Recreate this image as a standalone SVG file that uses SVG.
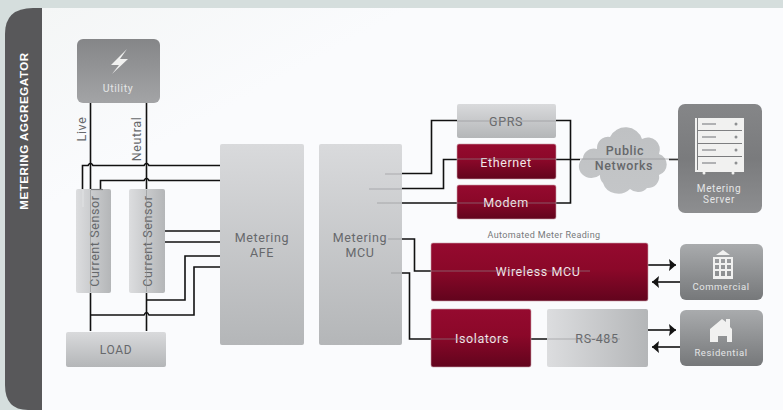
<svg xmlns="http://www.w3.org/2000/svg" width="783" height="410" viewBox="0 0 783 410">
<defs>
<linearGradient id="lg" x1="0" y1="0" x2="0" y2="1"><stop offset="0" stop-color="#d9dadc"/><stop offset="1" stop-color="#b4b6b8"/></linearGradient>
<linearGradient id="lg2" x1="0" y1="0" x2="1" y2="0"><stop offset="0" stop-color="#dcdddf"/><stop offset="1" stop-color="#b4b6b8"/></linearGradient>
<linearGradient id="red" x1="0" y1="0" x2="0" y2="1"><stop offset="0" stop-color="#950a2f"/><stop offset=".45" stop-color="#8b0829"/><stop offset="1" stop-color="#62041d"/></linearGradient>
<linearGradient id="dk" x1="0" y1="0" x2="0" y2="1"><stop offset="0" stop-color="#a9abad"/><stop offset="1" stop-color="#76787a"/></linearGradient>
<linearGradient id="dku" x1="0" y1="0" x2="0" y2="1"><stop offset="0" stop-color="#858688"/><stop offset="1" stop-color="#a3a4a6"/></linearGradient>
<linearGradient id="dks" x1="0" y1="0" x2="0" y2="1"><stop offset="0" stop-color="#858688"/><stop offset=".5" stop-color="#7a7b7d"/><stop offset="1" stop-color="#8d8e90"/></linearGradient>
<linearGradient id="cl" x1="0" y1="0" x2="0" y2="1"><stop offset="0" stop-color="#bfc1c3"/><stop offset="1" stop-color="#c4c6c8"/></linearGradient>
<linearGradient id="panel" x1="0" y1="0" x2="1" y2="1"><stop offset="0" stop-color="#f4f6f6"/><stop offset=".25" stop-color="#fafbfd"/><stop offset="1" stop-color="#fafbfd"/></linearGradient>
<marker id="arr" markerUnits="userSpaceOnUse" markerWidth="8" markerHeight="12" refX="7" refY="6" orient="auto"><path d="M0 0L7 6L0 12L1 6Z" fill="#141414"/></marker>
</defs>
<style>
text{font-family:"Roboto","Liberation Sans",sans-serif;text-anchor:middle;letter-spacing:.6px}
.g{fill:url(#lg)}
.v{fill:url(#lg2)}
.r{fill:url(#red);stroke:#c9a0aa;stroke-width:.6}
.d{fill:url(#dk)}
.t{fill:#66686b;font-size:12.5px}
.w{fill:#f2e6e9;font-size:12.5px}
.s{fill:#e4e5e6;font-size:10px}
.c{fill:none;stroke:#111;stroke-width:1.6}
.f{fill:none;stroke:#8d8f91;stroke-width:.6}
.i{fill:#f1f1f0}
</style>
<rect width="783" height="410" fill="#d5dedd"/>
<rect x="42" y="8" width="741" height="402" fill="url(#panel)"/>
<path d="M42 8V410H28Q5 410 5 385V34Q5 8 33 8Z" fill="#58585a"/>
<g id="connectors">
<path class="c" d="M90.500 103V331M146.500 103V331"/>
<path class="c" d="M82.500 189V165.500H88Q90.500 161 93 165.500H144Q146.500 161 149 165.500H220"/>
<path class="c" d="M100.500 189V180.500H144Q146.500 176 149 180.500H220"/>
<path class="c" d="M165 231H220M165 242H220"/>
<path class="c" d="M146.500 300H185V256H220"/>
<path class="c" d="M90.500 315H144Q146.500 310 149 315H194V267H220"/>
<path class="c" d="M402 173.500H431.500V120.500H457M402 188.500H443.500V159.500H457M402 203H457"/>
<path class="c" d="M556 120.500H570.500V203H556M556 159.500H580M669 159.500H680"/>
<path class="c" d="M402 239H414.500V271H431M402 273H409.500V339H431M531 339H547"/>
<path class="c" marker-end="url(#arr)" d="M648 265H676"/>
<path class="c" marker-end="url(#arr)" d="M680 282H652"/>
<path class="c" marker-end="url(#arr)" d="M648 330H676"/>
<path class="c" marker-end="url(#arr)" d="M680 347H652"/>
</g>
<g id="side-label"><text transform="translate(28 131) rotate(-90)" fill="#fff" font-size="11.500" font-weight="700" style="font-family:'Liberation Sans',sans-serif">METERING AGGREGATOR</text></g>
<g id="utility"><rect x="77" y="39" width="83" height="64" rx="6" fill="url(#dku)"/><path class="i" d="M127 49L111 65H119L112 74L128 59H120Z"/><text class="s" x="118" y="92" style="font-size:10.500px">Utility</text></g>
<g id="live-label"><text class="t" transform="translate(86 129) rotate(-90)">Live</text></g>
<g id="neutral-label"><text class="t" transform="translate(141 139) rotate(-90)">Neutral</text></g>
<g id="sensor1"><rect class="v" x="76" y="189" width="35" height="104" rx="2"/><text class="t" transform="translate(99 241) rotate(-90)">Current Sensor</text><path class="f" d="M90.500 190V292"/><path d="M83 190V207" stroke="#e6e7e8" stroke-width=".8"/><path d="M91 189.500H103" stroke="#77797b" stroke-width="1.200"/></g>
<g id="sensor2"><rect class="v" x="129" y="189" width="36" height="104" rx="2"/><text class="t" transform="translate(152 241) rotate(-90)">Current Sensor</text><path class="f" d="M146.500 190V292"/></g>
<g id="load"><rect class="g" x="66" y="332" width="100" height="35" rx="2"/><text class="t" x="116" y="354" style="font-size:12px">LOAD</text></g>
<g id="afe"><rect class="g" x="220" y="144" width="84" height="201" rx="2"/><text class="t" x="262" y="242">Metering</text><text class="t" x="262" y="257">AFE</text></g>
<g id="mcu"><rect class="g" x="319" y="144" width="83" height="201" rx="2"/><text class="t" x="360" y="242">Metering</text><text class="t" x="360" y="257">MCU</text><path class="f" d="M385 174H402M369 189H402M377 203H402M388 239H402M391 273H402"/></g>
<g id="gprs"><rect class="g" x="457" y="104" width="99" height="34" rx="2"/><text class="t" x="506" y="126">GPRS</text><path class="f" d="M457 121H556"/></g>
<g id="ethernet"><rect class="r" x="457" y="144" width="99" height="35" rx="2"/><text class="w" x="506" y="167">Ethernet</text><path class="f" d="M457 159H556"/></g>
<g id="modem"><rect class="r" x="457" y="185" width="99" height="34" rx="2"/><text class="w" x="506" y="207">Modem</text><path class="f" d="M457 203H556"/></g>
<g id="cloud"><path fill="url(#cl)" d="M610 137A17 16 0 0 1 642 139A12 12 0 0 1 659 154A11 11 0 0 1 659 175A11 11 0 0 1 647 188A12 12 0 0 1 630 189A16 15 0 0 1 603 183A10 10 0 0 1 600 175A11 10 0 0 1 583 158A11 10 0 0 1 597 149A11 11 0 0 1 610 137Z"/><text class="t" x="625" y="155" style="font-weight:500">Public</text><text class="t" x="624" y="170" style="font-weight:500">Networks</text><path class="f" d="M580 159H688"/></g>
<g id="server"><rect x="678" y="104" width="84" height="109" rx="7" fill="url(#dks)"/><g class="i"><rect x="695" y="118" width="2" height="54"/><rect x="742" y="118" width="2" height="54"/><rect x="698" y="118" width="44" height="12"/><rect x="698" y="131" width="44" height="12"/><rect x="698" y="144" width="44" height="12"/><rect x="698" y="157" width="44" height="13"/><rect x="695" y="170" width="49" height="2"/><circle cx="704" cy="173" r="1.500"/><circle cx="733" cy="173" r="1.500"/></g><path d="M702 124H716M702 137H716M702 150H716M702 163H716" stroke="#9a9c9e" stroke-width="1.500"/><g fill="#8e9092"><circle cx="736" cy="124" r="1.500"/><circle cx="736" cy="137" r="1.500"/><circle cx="736" cy="150" r="1.500"/><circle cx="736" cy="163" r="1.500"/></g><text class="s" x="719" y="192">Metering</text><text class="s" x="719" y="203">Server</text></g>
<g id="amr-label"><text x="544" y="238" fill="#77797b" style="font-size:9px;letter-spacing:.35px">Automated Meter Reading</text></g>
<g id="wireless"><rect class="r" x="431" y="243" width="217" height="58" rx="2"/><text class="w" x="538" y="276">Wireless MCU</text><path class="f" d="M431 271H590"/></g>
<g id="isolators"><rect class="r" x="431" y="309" width="100" height="58" rx="2"/><text class="w" x="482" y="343">Isolators</text><path class="f" d="M431 339H508"/></g>
<g id="rs485"><rect class="v" x="547" y="309" width="101" height="58" rx="2"/><text class="t" x="597" y="343">RS-485</text><path class="f" d="M547 339H620"/></g>
<g id="commercial"><rect class="d" x="680" y="244" width="83" height="56" rx="6"/><path class="i" d="M723 250L730 255H716Z"/><path class="i" fill-rule="evenodd" d="M713 257H733V279H713ZM715 259V263H719V259ZM721 259V263H725V259ZM727 259V263H731V259ZM715 265V269H719V265ZM721 265V269H725V265ZM727 265V269H731V265ZM715 271V276H719V271ZM721 271V276H725V271ZM727 271V276H731V271Z"/><text class="s" x="721" y="290" style="font-size:9.500px">Commercial</text></g>
<g id="residential"><rect class="d" x="680" y="310" width="83" height="56" rx="6"/><path class="i" fill-rule="evenodd" d="M710 329L722 319L726 322V319H730V327L732 329V342H727V336H718V342H710Z"/><text class="s" x="721" y="356" style="font-size:9.500px">Residential</text></g>
</svg>
